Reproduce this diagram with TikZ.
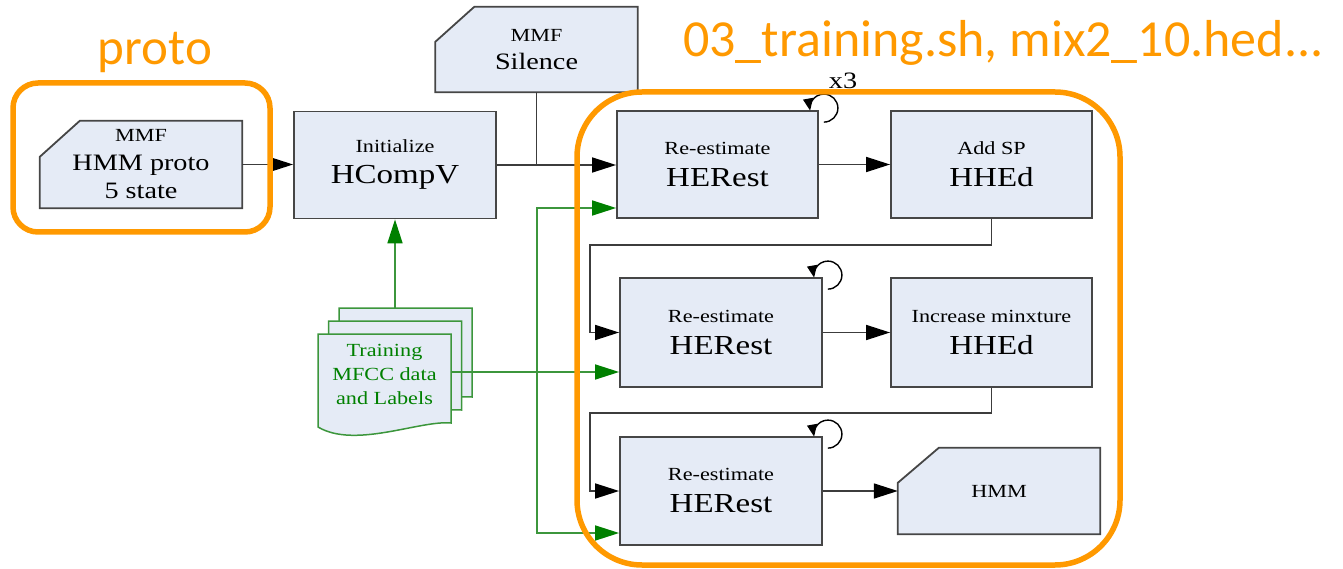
\documentclass[tikz,border=0pt]{standalone}
\usepackage{fontspec}
\newfontfamily\tms[FakeStretch=1.2]{Liberation Serif}
\newfontfamily\calib{Carlito}
\usetikzlibrary{arrows.meta,backgrounds,calc}
\definecolor{boxfill}{RGB}{229,235,246}
\definecolor{boxline}{RGB}{70,70,70}
\definecolor{connc}{RGB}{60,60,60}
\definecolor{gline}{RGB}{60,150,60}
\definecolor{gdark}{RGB}{0,128,0}
\definecolor{orng}{RGB}{255,153,0}
\newcommand\fsS{\tms\fontsize{18.5pt}{22pt}\selectfont}
\newcommand\fsM{\tms\fontsize{23.5pt}{28pt}\selectfont}
\newcommand\fsL{\tms\fontsize{27.5pt}{32pt}\selectfont}
\newcommand\stk[2]{\vbox{\baselineskip=#1\lineskiplimit=-1000pt\halign{\hfil##\hfil\cr#2\crcr}}}
\begin{document}
\begin{tikzpicture}[x=1pt,y=-1pt,
  box/.style={draw=boxline, fill=boxfill, line width=1.8pt, minimum width=201pt, minimum height=107pt, inner sep=0pt},
  card/.style={minimum width=202pt, minimum height=86pt, inner sep=0pt},
  cardshape/.style={draw=boxline, fill=boxfill, line width=1.8pt},
  docshape/.style={draw=gline, fill=boxfill, line width=1.5pt},
  conn/.style={draw=connc, line width=1.6pt, -{Triangle[length=24pt,width=15pt,color=black]}},
  plain/.style={draw=connc, line width=1.6pt},
  loopc/.style={draw=black, line width=1.4pt, -{Triangle[length=12pt,width=10pt,color=black]}},
  garrow/.style={draw=gline, line width=1.6pt, -{Triangle[length=24pt,width=15pt,color=gdark]}},
  obox/.style={draw=orng, line width=5.5pt},
  otext/.style={text=orng, inner sep=0pt}
]
\useasboundingbox (0,0) rectangle (1343,569);

% titles
\node[otext, anchor=base, font=\calib\fontsize{51pt}{60pt}\selectfont] (t1) at (155,65) {proto};
\node[otext, anchor=base west, font=\calib\fontsize{52pt}{60pt}\selectfont] (t2) at (683,57) {03\_training.sh, mix2\_10.hed...};

% cards
\node[card, minimum height=87pt] (proto) at (141,164.5) {\stk{28.5pt}{\fsS MMF\cr\fsM HMM proto\cr\fsM 5 state}};
\node[card, minimum height=85pt] (sil) at (536.5,49.5) {\stk{28pt}{\fsS MMF\cr\fsM Silence}};
\node[card] (hmm) at (999,491) {\fsS HMM};
\begin{scope}[on background layer]
\draw[cardshape] ([yshift=-36pt]proto.north west) -- ([xshift=40pt]proto.north west) -- (proto.north east) -- (proto.south east) -- (proto.south west) -- cycle;
\draw[cardshape] ([yshift=-35pt]sil.north west) -- ([xshift=39pt]sil.north west) -- (sil.north east) -- (sil.south east) -- (sil.south west) -- cycle;
\draw[cardshape] ([yshift=-35pt]hmm.north west) -- ([xshift=41pt]hmm.north west) -- (hmm.north east) -- (hmm.south east) -- (hmm.south west) -- cycle;
\end{scope}

% boxes
\node[box, minimum width=202pt] (hc) at (395,165) {\stk{31pt}{\fsS Initialize\cr\fsL HCompV}};
\node[box] (h1) at (717.5,164.5) {\stk{32pt}{\fsS Re-estimate\cr\fsL HERest}};
\node[box] (sp) at (991.5,164.5) {\stk{32pt}{\fsS Add SP\cr\fsL HHEd}};
\node[box, minimum width=202pt, minimum height=109pt] (h2) at (721,332.5) {\stk{32pt}{\fsS Re-estimate\cr\fsL HERest}};
\node[box, minimum height=109pt] (mx) at (991.5,332.5) {\stk{32pt}{\fsS Increase minxture\cr\fsL HHEd}};
\node[box, minimum width=202pt, minimum height=108pt] (h3) at (721,491) {\stk{32pt}{\fsS Re-estimate\cr\fsL HERest}};

% training documents
\foreach \dx/\dy in {21/-26, 10.5/-13, 0/0} {
  \draw[docshape, shift={(\dx,\dy)}] (318,334) -- (451,334) -- (451,423) .. controls (420,420) and (355,449) .. (318,427) -- cycle;
}
\node[text=gdark, inner sep=0pt] (doc) at (384.5,374.5) {\stk{24pt}{\fsS Training\cr\fsS MFCC data\cr\fsS and Labels}};

% black connectors
\draw[conn] (proto.east) -- (proto.east -| hc.west);
\draw[conn] (hc.east) -- (hc.east -| h1.west);
\draw[plain] (sil.south) -- (sil.south |- hc.east);
\draw[conn] (h1.east) -- (h1.east -| sp.west);
\coordinate (k1) at (590,245);
\coordinate (k2) at (590,413);
\draw[conn] (sp.south) |- (k1) |- (h2.west);
\draw[conn] (h2.east) -- (h2.east -| mx.west);
\draw[conn] (mx.south) |- (k2) |- (h3.west);
\draw[conn] (h3.east) -- (h3.east -| hmm.west);

% self loops
\foreach \n in {h1,h2,h3} {
  \draw[loopc] ([xshift=5pt,yshift=-12pt]\n.north east) arc[start angle=90, end angle=-190, radius=14];
}
\node[font=\fsM, inner sep=0pt, anchor=base] (x3) at (843,89) {x3};

% green connectors
\coordinate (dtop) at (395,308);
\coordinate (dout) at (451,372);
\coordinate (gj) at (537,372);
\draw[garrow] (dtop) -- (hc.south);
\draw[garrow] (dout) -- (dout -| h2.west);
\draw[garrow] (gj) |- ([yshift=-43.5pt]h1.west);
\draw[garrow] (gj) |- ([yshift=-42pt]h3.west);

% orange groups
\draw[obox, rounded corners=25pt] (13,83) rectangle (270,232);
\draw[obox, rounded corners=65pt] (577,92) rectangle (1120,565);
\end{tikzpicture}
\end{document}
